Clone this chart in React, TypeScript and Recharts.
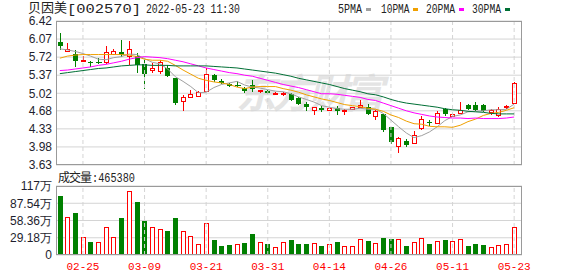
import { ComposedChart, Bar, Line, XAxis, YAxis, CartesianGrid, ReferenceLine } from "recharts";

const dates = [
  "02-22", "02-23", "02-24", "02-25", "02-28", "03-01", "03-02", "03-03", "03-04", "03-07",
  "03-08", "03-09", "03-10", "03-11", "03-14", "03-15", "03-16", "03-17", "03-18", "03-21",
  "03-22", "03-23", "03-24", "03-25", "03-28", "03-29", "03-30", "03-31", "04-01", "04-06",
  "04-07", "04-08", "04-11", "04-12", "04-13", "04-14", "04-15", "04-18", "04-19", "04-20",
  "04-21", "04-22", "04-25", "04-26", "04-27", "04-28", "04-29", "05-05", "05-06", "05-09",
  "05-10", "05-11", "05-12", "05-13", "05-16", "05-17", "05-18", "05-19", "05-20", "05-23",
];

const opens = [
  6.02, 5.83, 5.79, 5.65, 5.63, 5.62, 5.62, 5.78, 5.81, 5.74,
  5.74, 5.59, 5.47, 5.45, 5.5, 5.32, 4.87, 4.94, 4.97, 5.07,
  5.37, 5.26, 5.19, 5.18, 5.12, 5.18, 5.06, 5.07, 5.01, 5.0,
  5.0, 4.93, 4.82, 4.69, 4.74, 4.7, 4.73, 4.67, 4.71, 4.75,
  4.75, 4.57, 4.61, 4.36, 4.0, 4.1, 4.05, 4.34, 4.46, 4.45,
  4.71, 4.57, 4.64, 4.79, 4.8, 4.8, 4.66, 4.6, 4.75, 4.84,
];
const highs = [
  6.19, 6.0, 5.86, 5.74, 5.64, 5.7, 5.94, 5.87, 6.05, 6.03,
  5.8, 5.7, 5.61, 5.67, 5.56, 5.32, 4.99, 5.08, 5.07, 5.5,
  5.39, 5.3, 5.22, 5.25, 5.15, 5.28, 5.09, 5.08, 5.04, 5.05,
  5.02, 4.95, 4.86, 4.76, 4.78, 4.76, 4.77, 4.71, 4.76, 4.88,
  4.82, 4.69, 4.62, 4.36, 4.18, 4.13, 4.29, 4.57, 4.5, 4.68,
  4.74, 4.63, 4.85, 4.82, 4.85, 4.82, 4.72, 4.75, 4.8, 5.23,
];
const lows = [
  5.86, 5.81, 5.53, 5.62, 5.53, 5.58, 5.58, 5.76, 5.72, 5.57,
  5.41, 5.1, 5.41, 5.4, 5.33, 4.8, 4.68, 4.92, 4.95, 5.05,
  5.24, 5.19, 5.14, 5.15, 5.03, 5.05, 5.03, 5.0, 4.98, 4.97,
  4.87, 4.79, 4.67, 4.59, 4.66, 4.68, 4.6, 4.59, 4.7, 4.73,
  4.59, 4.51, 4.27, 4.04, 3.87, 3.98, 4.03, 4.31, 4.39, 4.42,
  4.58, 4.56, 4.64, 4.69, 4.68, 4.66, 4.59, 4.56, 4.72, 4.82,
];
const closes = [
  5.94, 5.87, 5.65, 5.66, 5.6, 5.62, 5.81, 5.84, 5.76, 5.87,
  5.57, 5.39, 5.51, 5.63, 5.35, 4.83, 4.94, 5.0, 5.05, 5.39,
  5.28, 5.21, 5.17, 5.18, 5.06, 5.1, 5.08, 5.02, 5.02, 5.02,
  4.89, 4.82, 4.75, 4.75, 4.69, 4.74, 4.67, 4.69, 4.75, 4.8,
  4.62, 4.68, 4.31, 4.08, 4.15, 4.02, 4.22, 4.52, 4.44, 4.64,
  4.62, 4.62, 4.7, 4.72, 4.7, 4.67, 4.69, 4.72, 4.77, 5.22,
];

// 成交量, in 万
const volumes = [
  100.0, 64.4, 71.7, 30.0, 22.0, 22.0, 47.0, 30.0, 62.7, 108.5,
  89.9, 57.7, 47.0, 43.5, 40.7, 62.7, 40.1, 31.6, 18.7, 53.7,
  25.4, 15.3, 17.0, 18.7, 20.9, 35.6, 22.0, 18.7, 13.6, 22.0,
  25.4, 18.7, 18.7, 20.3, 15.3, 18.7, 22.0, 14.7, 14.7, 26.6,
  23.7, 20.3, 28.8, 27.1, 26.6, 15.3, 22.0, 28.3, 18.7, 23.7,
  25.4, 23.7, 26.6, 15.3, 18.7, 17.0, 13.0, 16.4, 18.7, 46.54,
];

const ma5 = [
  5.88, 5.86, 5.83, 5.79, 5.74, 5.68, 5.67, 5.71, 5.73, 5.78,
  5.77, 5.69, 5.62, 5.59, 5.49, 5.34, 5.25, 5.15, 5.03, 5.04,
  5.13, 5.19, 5.22, 5.25, 5.18, 5.14, 5.12, 5.09, 5.06, 5.05,
  5.01, 4.95, 4.9, 4.85, 4.78, 4.75, 4.72, 4.71, 4.71, 4.73,
  4.71, 4.71, 4.63, 4.5, 4.37, 4.25, 4.16, 4.2, 4.27, 4.37,
  4.49, 4.57, 4.6, 4.66, 4.67, 4.68, 4.7, 4.7, 4.71, 4.81,
];
const ma10 = [
  5.7, 5.74, 5.76, 5.77, 5.77, 5.77, 5.77, 5.77, 5.77, 5.76,
  5.73, 5.68, 5.66, 5.66, 5.64, 5.56, 5.47, 5.39, 5.31, 5.27,
  5.24, 5.22, 5.19, 5.14, 5.11, 5.14, 5.15, 5.15, 5.15, 5.11,
  5.08, 5.04, 4.99, 4.95, 4.91, 4.88, 4.84, 4.8, 4.78, 4.76,
  4.73, 4.71, 4.67, 4.6, 4.55, 4.48, 4.43, 4.42, 4.38, 4.37,
  4.37, 4.36, 4.4, 4.47, 4.52, 4.59, 4.63, 4.65, 4.69, 4.74,
];
const ma20 = [
  5.46, 5.47, 5.49, 5.51, 5.53, 5.56, 5.58, 5.61, 5.64, 5.68,
  5.71, 5.73, 5.72, 5.71, 5.69, 5.66, 5.63, 5.59, 5.55, 5.51,
  5.48, 5.45, 5.42, 5.4, 5.37, 5.35, 5.31, 5.27, 5.23, 5.19,
  5.16, 5.13, 5.09, 5.05, 5.01, 5.01, 5.0, 4.98, 4.96, 4.94,
  4.9, 4.88, 4.83, 4.78, 4.73, 4.68, 4.64, 4.61, 4.58, 4.56,
  4.55, 4.54, 4.54, 4.53, 4.54, 4.53, 4.53, 4.53, 4.54, 4.56,
];
const ma30 = [
  5.4, 5.42, 5.44, 5.46, 5.48, 5.5, 5.51, 5.53, 5.55, 5.56,
  5.57, 5.57, 5.56, 5.56, 5.56, 5.55, 5.55, 5.55, 5.55, 5.55,
  5.54, 5.53, 5.52, 5.51, 5.49, 5.47, 5.45, 5.43, 5.41, 5.38,
  5.35, 5.31, 5.28, 5.25, 5.22, 5.19, 5.15, 5.11, 5.08, 5.05,
  5.01, 4.99, 4.95, 4.9, 4.86, 4.83, 4.81, 4.79, 4.77, 4.75,
  4.72, 4.7, 4.69, 4.67, 4.66, 4.65, 4.63, 4.62, 4.62, 4.62,
];

const priceTicks = [3.63, 3.98, 4.33, 4.68, 5.02, 5.37, 5.72, 6.07, 6.42];
const volTicks = [0, 29.18, 58.36, 87.54, 116.72];
const volTickLabels = ["0", "29.18万", "58.36万", "87.54万", "117万"];
const dateTicks = ["02-25", "03-09", "03-21", "03-31", "04-14", "04-26", "05-11", "05-23"];

const RED = "#ff0000";
const GREEN = "#008000";
const GRID = "#d4d4d4";
const FRAME = "#9a9a9a";
const MA_COLORS = { ma5: "#a0a0a0", ma10: "#f0a000", ma20: "#ff00ff", ma30: "#006f35" };

const data = dates.map((date, i) => ({
  date,
  open: opens[i],
  high: highs[i],
  low: lows[i],
  close: closes[i],
  vol: volumes[i],
  ma5: ma5[i],
  ma10: ma10[i],
  ma20: ma20[i],
  ma30: ma30[i],
  // volume colour: by candle, doji falls back to previous close
  volUp: closes[i] > opens[i] || (closes[i] === opens[i] && i > 0 && closes[i] > closes[i - 1]),
}));

const Candle = (props: any) => {
  const { x, y, width, height, payload } = props;
  const { open, close, high, low } = payload;
  const top = Math.min(y, y + height);
  const h = Math.abs(height);
  const k = high > low ? h / (high - low) : 0;
  const py = (v: number) => top + (high - v) * k;
  const cx = Math.round(x + width / 2) + 0.5;
  const rising = close > open;
  const color = rising ? RED : GREEN;
  const yHigh = Math.round(py(high));
  const yLow = Math.round(py(low));
  const bTop = Math.round(Math.min(py(open), py(close)));
  const bBot = Math.round(Math.max(py(open), py(close)));

  if (bBot - bTop < 1) {
    return (
      <g shapeRendering="crispEdges">
        <line x1={cx} x2={cx} y1={yHigh} y2={yLow} stroke={color} />
        <line x1={cx - 3} x2={cx + 3} y1={bTop + 0.5} y2={bTop + 0.5} stroke={color} />
      </g>
    );
  }
  if (rising) {
    return (
      <g shapeRendering="crispEdges">
        <line x1={cx} x2={cx} y1={yHigh} y2={bTop} stroke={color} />
        <line x1={cx} x2={cx} y1={bBot} y2={yLow} stroke={color} />
        <rect x={cx - 2} y={bTop + 0.5} width={4} height={bBot - bTop} fill="#fff" stroke={color} />
      </g>
    );
  }
  return (
    <g shapeRendering="crispEdges">
      <line x1={cx} x2={cx} y1={yHigh} y2={yLow} stroke={color} />
      <rect x={cx - 2.5} y={bTop} width={5} height={Math.max(1, bBot - bTop)} fill={color} />
    </g>
  );
};

const VolBar = (props: any) => {
  const { x, y, width, height, payload } = props;
  const cx = Math.round(x + width / 2) + 0.5;
  const top = Math.round(y);
  const bottom = Math.round(y + height);
  if (payload.volUp) {
    return (
      <rect x={cx - 2} y={top + 0.5} width={4} height={bottom - top - 1} fill="#fff" stroke={RED} shapeRendering="crispEdges" />
    );
  }
  return <rect x={cx - 2.5} y={top} width={5} height={bottom - top} fill={GREEN} shapeRendering="crispEdges" />;
};

const axisTick = { fontSize: 12, fill: "#1e1e2e", fontFamily: "'Liberation Sans', Arial, sans-serif" };
const cjk = "'Noto Sans CJK SC', sans-serif";
const mono = "'Liberation Mono', monospace";

const legendItems = [
  { label: "5PMA", x: 338, len: 24, sw: 366, color: MA_COLORS.ma5 },
  { label: "10PMA", x: 381, len: 28.5, sw: 413, color: MA_COLORS.ma10 },
  { label: "20PMA", x: 426, len: 29, sw: 459, color: MA_COLORS.ma20 },
  { label: "30PMA", x: 472, len: 29, sw: 505, color: MA_COLORS.ma30 },
];

export default function App() {
  return (
    <div style={{ position: "absolute", left: 0, top: 0, width: 578, height: 276, background: "#fff", overflow: "hidden" }}>
      {/* watermark */}
      <svg width={578} height={276} style={{ position: "absolute", left: 0, top: 0 }}>
        <text x={236} y={108} fontSize={40} fontWeight="bold" fontStyle="italic" fill="#e4e4e4" fontFamily={cjk} textLength={148}>
          东方财富
        </text>
      </svg>

      <div style={{ position: "absolute", left: 0, top: 0 }}>
        <ComposedChart width={578} height={178} data={data} margin={{ top: 21, right: 56, bottom: 13, left: 0 }}>
          <CartesianGrid vertical={false} stroke={GRID} />
          <XAxis dataKey="date" hide padding={{ left: 0, right: 4 }} />
          <YAxis
            domain={[3.63, 6.42]}
            ticks={priceTicks}
            interval={0}
            width={56}
            tickSize={0}
            tickMargin={4}
            axisLine={false}
            tick={axisTick}
            tickFormatter={(v: number) => v.toFixed(2)}
          />
          {dateTicks.map((d) => (
            <ReferenceLine key={d} x={d} stroke={GRID} strokeDasharray="4 3" />
          ))}
          <Bar dataKey={(d: any) => [d.low, d.high]} barSize={5} shape={<Candle />} isAnimationActive={false} />
          <Line dataKey="ma5" stroke={MA_COLORS.ma5} dot={false} strokeWidth={1} isAnimationActive={false} />
          <Line dataKey="ma10" stroke={MA_COLORS.ma10} dot={false} strokeWidth={1} isAnimationActive={false} />
          <Line dataKey="ma20" stroke={MA_COLORS.ma20} dot={false} strokeWidth={1} isAnimationActive={false} />
          <Line dataKey="ma30" stroke={MA_COLORS.ma30} dot={false} strokeWidth={1} isAnimationActive={false} />
        </ComposedChart>
      </div>

      <div style={{ position: "absolute", left: 0, top: 0 }}>
        <ComposedChart width={578} height={276} data={data} margin={{ top: 186, right: 56, bottom: 0, left: 0 }}>
          <CartesianGrid vertical={false} stroke={GRID} />
          <XAxis
            dataKey="date"
            ticks={dateTicks}
            interval={0}
            height={21}
            padding={{ left: 0, right: 4 }}
            tickSize={0}
            tickMargin={7}
            axisLine={false}
            tick={{ fontSize: 11, fill: RED, fontFamily: mono }}
          />
          <YAxis
            domain={[0, 116.72]}
            ticks={volTicks}
            interval={0}
            width={56}
            tickSize={0}
            tickMargin={4}
            axisLine={false}
            tick={axisTick}
            tickFormatter={(v: number) => volTickLabels[volTicks.indexOf(v)] ?? ""}
          />
          {dateTicks.map((d) => (
            <ReferenceLine key={d} x={d} stroke={GRID} strokeDasharray="4 3" />
          ))}
          <Bar dataKey="vol" barSize={5} shape={<VolBar />} isAnimationActive={false} />
        </ComposedChart>
      </div>

      {/* frames, title, legend */}
      <svg width={578} height={276} style={{ position: "absolute", left: 0, top: 0, pointerEvents: "none" }}>
        <rect x={56.5} y={21.5} width={465} height={143} fill="none" stroke={FRAME} shapeRendering="crispEdges" />
        <rect x={56.5} y={186.5} width={465} height={68} fill="none" stroke={FRAME} shapeRendering="crispEdges" />

        <text x={67} y={12.5} fontSize={13} fill="#222" fontFamily={mono} textLength={74} lengthAdjust="spacingAndGlyphs">[002570]</text>
        <text x={146} y={12.5} fontSize={13} fill="#222" fontFamily={mono} textLength={94} lengthAdjust="spacingAndGlyphs">2022-05-23 11:30</text>

        {legendItems.map((it) => (
          <g key={it.label}>
            <text x={it.x} y={12.5} fontSize={12} fill="#222" fontFamily={mono} textLength={it.len} lengthAdjust="spacingAndGlyphs">
              {it.label}
            </text>
            <rect x={it.sw} y={8} width={5} height={3} fill={it.color} />
          </g>
        ))}

        <text x={58} y={182} fontSize={12} fill="#222" fontFamily={cjk} textLength={34}>成交量</text>
        <text x={92} y={182} fontSize={12} fill="#222" fontFamily={mono} textLength={43} lengthAdjust="spacingAndGlyphs">:465380</text>
      </svg>

      {/* stock name: html with tight line box so it clears the 6.42 label */}
      <div
        style={{
          position: "absolute",
          left: 28,
          top: 1,
          fontSize: 13,
          lineHeight: "12px",
          fontFamily: cjk,
          color: "#222",
          whiteSpace: "nowrap",
        }}
      >
        贝因美
      </div>
    </div>
  );
}
